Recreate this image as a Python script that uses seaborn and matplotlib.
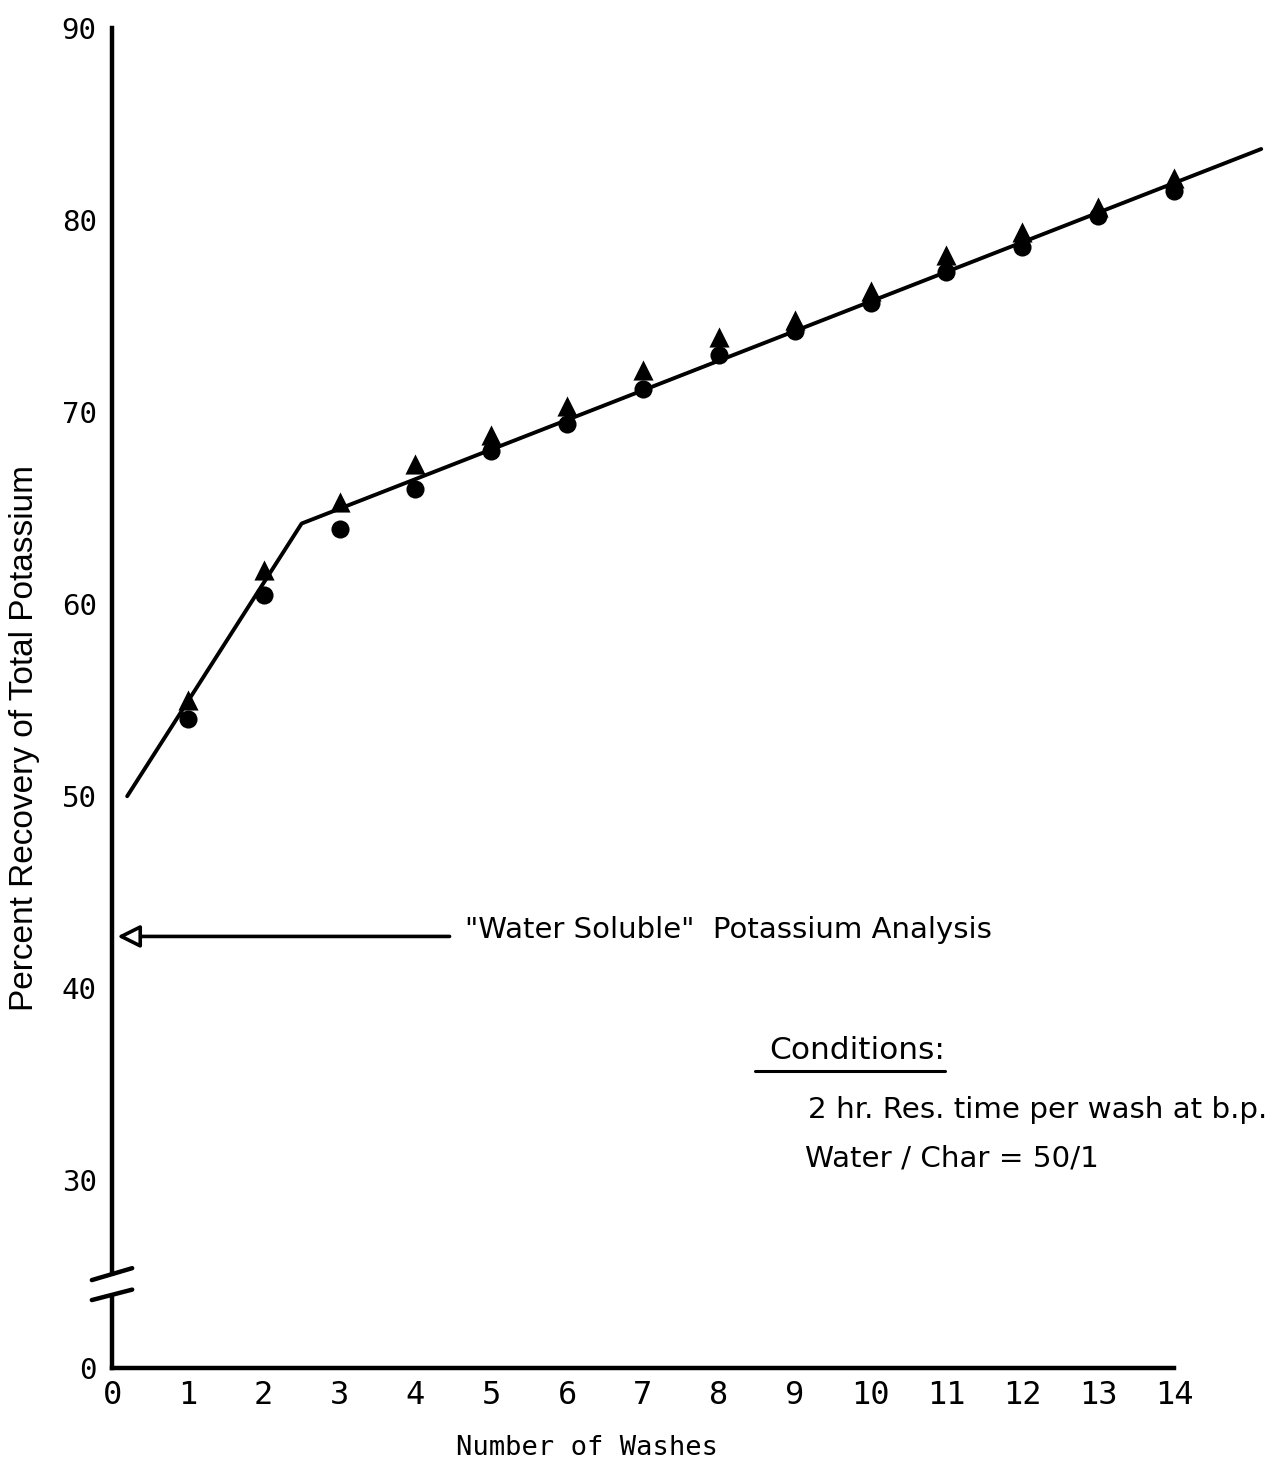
import numpy as np
import pandas as pd
import matplotlib
matplotlib.use("Agg")
import matplotlib.pyplot as plt
import seaborn as sns
from matplotlib.patches import Rectangle

# ---------------- data ----------------
washes = list(range(1, 15))
triangle_pct = [55.0, 61.8, 65.3, 67.3, 68.8, 70.3, 72.2, 73.9, 74.8, 76.3, 78.2, 79.4, 80.7, 82.2]
circle_pct = [54.0, 60.5, 63.9, 66.0, 68.0, 69.4, 71.2, 73.0, 74.2, 75.7, 77.3, 78.6, 80.2, 81.5]
fit_washes = [0.2, 2.5, 15.15]
fit_pct = [50.0, 64.2, 83.7]
water_soluble_pct = 42.7
x_ticks = list(range(0, 15))
y_ticks = [0, 30, 40, 50, 60, 70, 80, 90]
y_tick_labels = ["0", "30", "40", "50", "60", "70", "80", "90"]

pts = pd.DataFrame({"wash": washes, "tri": triangle_pct, "circ": circle_pct})
fit = pd.DataFrame({"wash": fit_washes, "pct": fit_pct})

# ---------------- style ----------------
sns.set_theme(style="white")
plt.rcParams["font.family"] = ["Liberation Sans", "DejaVu Sans"]

fig = plt.figure(figsize=(12.74, 14.67), dpi=100)
ax = fig.add_axes([112 / 1274, 1 - 1368 / 1467, (1174 - 112) / 1274, (1368 - 28) / 1467])

# broken y-axis via a piecewise-linear scale
S0, BREAK = 20.23, 25.0
def fwd(y):
    y = np.asarray(y, dtype=float)
    return np.where(y >= BREAK, y, S0 + y * (BREAK - S0) / BREAK)
def inv(s):
    s = np.asarray(s, dtype=float)
    return np.where(s >= BREAK, s, (s - S0) * BREAK / (BREAK - S0))
ax.set_yscale("function", functions=(fwd, inv))

sns.lineplot(data=fit, x="wash", y="pct", ax=ax, color="black", lw=2.8,
             sort=False, estimator=None, clip_on=False, zorder=2)
sns.scatterplot(data=pts, x="wash", y="tri", ax=ax, marker="^", s=210,
                color="black", edgecolor="black", linewidth=0, zorder=3, clip_on=False)
sns.scatterplot(data=pts, x="wash", y="circ", ax=ax, marker="o", s=170,
                color="black", edgecolor="black", linewidth=0, zorder=3, clip_on=False)

ax.set_xlim(0, 14)
ax.set_ylim(0, 90)

for side in ["top", "right"]:
    ax.spines[side].set_visible(False)
for side in ["left", "bottom"]:
    ax.spines[side].set_linewidth(3.2)
    ax.spines[side].set_color("black")

mono = "DejaVu Sans Mono"
ax.set_xticks(x_ticks)
ax.set_xticklabels([str(v) for v in x_ticks], fontfamily=mono, fontsize=23)
ax.set_yticks(y_ticks)
ax.set_yticklabels(y_tick_labels, fontfamily=mono, fontsize=21)
ax.yaxis.set_minor_locator(matplotlib.ticker.NullLocator())
ax.tick_params(axis="x", direction="in", length=9, width=2.2, pad=9, colors="black")
ax.tick_params(axis="y", direction="in", length=13, width=3.2, pad=11, colors="black")

ax.set_xlabel("Number of Washes", fontfamily=mono, fontsize=19.5, color="black")
ax.xaxis.set_label_coords((587 - 112) / 1062, (1368 - 1435) / 1340)
ax.set_ylabel("Percent Recovery of Total Potassium", fontsize=24, color="black")
ax.yaxis.set_label_coords((40 - 112) / 1062, (1368 - 738) / 1340)

# axis break marks
ax.add_patch(Rectangle((-0.012, 0.055), 0.024, 0.014, transform=ax.transAxes,
                       facecolor="white", edgecolor="none", clip_on=False, zorder=5))
ax.plot([-0.019, 0.019], [0.0656, 0.0745], transform=ax.transAxes, color="black",
        lw=3.2, clip_on=False, zorder=6)
ax.plot([-0.019, 0.019], [0.0507, 0.0585], transform=ax.transAxes, color="black",
        lw=3.2, clip_on=False, zorder=6)

# annotation arrow
ax.annotate("", xy=(0.07, water_soluble_pct), xytext=(4.45, water_soluble_pct),
            arrowprops=dict(arrowstyle="-|>", mutation_scale=34, lw=2.6,
                            fc="white", ec="black", shrinkA=0, shrinkB=0),
            annotation_clip=False)
ann = dict(family=["DejaVu Sans"], color="black", ha="left", va="center")
ax.text(4.65, water_soluble_pct + 0.35, "\"Water Soluble\"  Potassium Analysis",
        fontsize=21, **ann)

# conditions block
ax.text(8.67, 36.75, "Conditions:", fontsize=22.5, **ann)
ax.plot([(755 - 112) / 1062, (945 - 112) / 1062], [(1368 - 1071) / 1340] * 2,
        transform=ax.transAxes, color="black", lw=2.2, clip_on=False)
ax.text(9.17, 33.64, "2 hr. Res. time per wash at b.p.", fontsize=21.2, **ann)
ax.text(9.13, 31.14, "Water / Char = 50/1", fontsize=21.2, **ann)

fig.savefig("out.png", dpi=100, facecolor="white")
